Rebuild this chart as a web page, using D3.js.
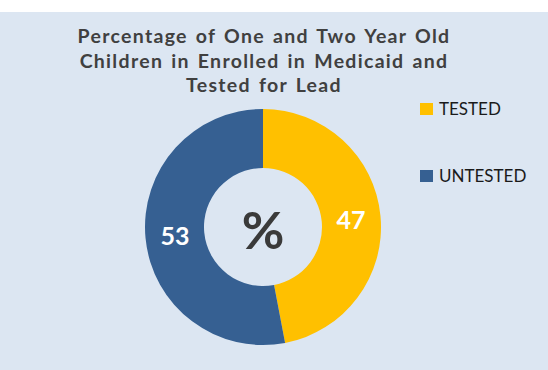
<!DOCTYPE html>
<html>
<head>
<meta charset="utf-8">
<script src="https://cdn.jsdelivr.net/npm/d3@7/dist/d3.min.js"></script>
<style>
  html, body { margin: 0; padding: 0; background: #ffffff; }
  svg { display: block; }
</style>
</head>
<body>
<svg id="chart" width="548" height="370"></svg>
<script>
// Share of enrolled one- and two-year-olds tested for lead
const categories = ["TESTED", "UNTESTED"];
const values = [47, 53];
const colors = ["#FFC000", "#366092"];
const titleLines = [
  "Percentage of One and Two Year Old",
  "Children in Enrolled in Medicaid and",
  "Tested for Lead"
];
const centerLabel = "%";

const W = 548, H = 370;
const svg = d3.select("#chart");

// panel background
svg.append("rect")
  .attr("x", 0).attr("y", 12)
  .attr("width", W).attr("height", H - 12)
  .attr("fill", "#DCE6F2");

// title
const title = svg.append("g")
  .attr("font-family", "Lato, 'Open Sans', sans-serif")
  .attr("font-weight", "bold")
  .attr("fill", "#404040")
  .attr("text-anchor", "middle");
titleLines.forEach((t, i) => {
  title.append("text")
    .attr("x", 264)
    .attr("y", 43 + i * 24.5)
    .attr("font-size", 19.5)
    .attr("letter-spacing", 1.3)
    .attr("word-spacing", 2)
    .text(t);
});

// donut
const cx = 263, cy = 227, rOuter = 118, rInner = 59;
const pie = d3.pie().sort(null).value(d => d.value).startAngle(0).endAngle(2 * Math.PI);
const arcs = pie(categories.map((c, i) => ({ name: c, value: values[i] })));
const color = d3.scaleOrdinal().domain(categories).range(colors);
const arc = d3.arc().innerRadius(rInner).outerRadius(rOuter);
const labelArc = d3.arc().innerRadius((rInner + rOuter) / 2).outerRadius((rInner + rOuter) / 2);

const g = svg.append("g").attr("transform", `translate(${cx},${cy})`);
g.selectAll("path.slice")
  .data(arcs)
  .join("path")
  .attr("class", "slice")
  .attr("d", arc)
  .attr("fill", d => color(d.data.name));

g.selectAll("text.value")
  .data(arcs)
  .join("text")
  .attr("class", "value")
  .attr("transform", d => `translate(${labelArc.centroid(d)})`)
  .attr("text-anchor", "middle")
  .attr("dominant-baseline", "central")
  .attr("font-family", "Lato, 'Open Sans', sans-serif")
  .attr("font-weight", "bold")
  .attr("font-size", 25)
  .attr("fill", "#ffffff")
  .text(d => d.data.value);

g.append("text")
  .attr("text-anchor", "middle")
  .attr("dominant-baseline", "central")
  .attr("y", 2)
  .attr("font-family", "Lato, 'Open Sans', sans-serif")
  .attr("font-weight", "bold")
  .attr("font-size", 52)
  .attr("fill", "#3a3a3a")
  .text(centerLabel);

// legend
const legend = svg.append("g")
  .attr("font-family", "Lato, 'Open Sans', sans-serif")
  .attr("font-size", 17)
  .attr("fill", "#1a1a1a");
const legY = d3.scalePoint().domain(categories).range([109, 176]);
const item = legend.selectAll("g")
  .data(categories)
  .join("g")
  .attr("transform", d => `translate(420,${legY(d)})`);
item.append("rect")
  .attr("x", 0).attr("y", -6)
  .attr("width", 13).attr("height", 12)
  .attr("fill", d => color(d));
item.append("text")
  .attr("x", 19)
  .attr("y", 6)
  .text(d => d);
</script>
</body>
</html>
